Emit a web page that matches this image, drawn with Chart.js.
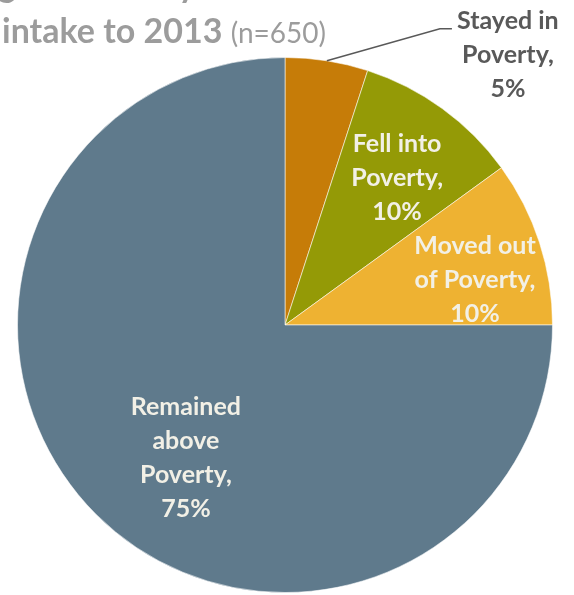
<!DOCTYPE html>
<html><head><meta charset="utf-8">
<script src="https://cdn.jsdelivr.net/npm/chart.js@4"></script>
<style>html,body{margin:0;padding:0;background:#fff;overflow:hidden}canvas{display:block}</style>
</head><body><canvas id="c" width="574" height="595"></canvas>
<script>
const categories = ["Stayed in Poverty", "Fell into Poverty", "Moved out of Poverty", "Remained above Poverty"];
const nameLines = [["Stayed in", "Poverty,"], ["Fell into", "Poverty,"], ["Moved out", "of Poverty,"], ["Remained", "above", "Poverty,"]];
const values = [5, 10, 10, 75];
const colors = ["#C67C08", "#949A06", "#EEB232", "#5F7A8C"];
const titleLine1 = "Change in Poverty from";
const titleLine2 = "intake to 2013";
const titleNote = "(n=650)";

const FONT = "Lato, 'Open Sans', sans-serif";
// label placement styles: radial fraction and angular shift (deg) from slice middle
const labelStyle = [
  {r: 1.31, shift: 30.5, color: '#595959', leader: true},
  {r: 0.69, shift: 1.4, color: '#F2F0E6'},
  {r: 0.73, shift: 4.7, color: '#F2F0E6'},
  {r: 0.62, shift: -8.3, color: '#F2F0E6'}
];

const labelPlugin = {
  id: 'sliceLabels',
  afterDatasetsDraw(chart) {
    const ctx = chart.ctx;
    const meta = chart.getDatasetMeta(0);
    ctx.save();
    ctx.font = "bold 25px " + FONT;
    ctx.textAlign = 'center';
    ctx.textBaseline = 'middle';
    meta.data.forEach((arc, i) => {
      const st = labelStyle[i];
      const mid = (arc.startAngle + arc.endAngle) / 2;
      const a = mid + st.shift * Math.PI / 180;
      const R = arc.outerRadius;
      const cx = arc.x + Math.cos(a) * R * st.r;
      const cy = arc.y + Math.sin(a) * R * st.r;
      const lines = nameLines[i].concat([values[i] + "%"]);
      const lh = 34;
      ctx.fillStyle = st.color;
      lines.forEach((t, k) => {
        ctx.fillText(t, cx, cy - (lines.length - 1) * lh / 2 + k * lh);
      });
      if (st.leader) {
        const sx = arc.x + Math.cos(mid) * R;
        const sy = arc.y + Math.sin(mid) * R;
        const ea = mid + 18.6 * Math.PI / 180;
        const ex = arc.x + Math.cos(ea) * R * 1.25;
        const ey = arc.y + Math.sin(ea) * R * 1.25;
        ctx.strokeStyle = '#595959';
        ctx.lineWidth = 1.5;
        ctx.beginPath();
        ctx.moveTo(sx, sy);
        ctx.lineTo(ex, ey);
        ctx.lineTo(ex + 12, ey);
        ctx.stroke();
      }
    });
    // title
    ctx.textAlign = 'left';
    ctx.textBaseline = 'alphabetic';
    ctx.fillStyle = '#9C9C9C';
    ctx.font = "bold 34px " + FONT;
    ctx.fillText(titleLine1, -80, -3);
    ctx.fillText(titleLine2, 2, 43);
    const w = ctx.measureText(titleLine2 + " ").width;
    ctx.font = "28px " + FONT;
    ctx.fillText(titleNote, 2 + w, 43);
    ctx.restore();
  }
};

new Chart(document.getElementById('c'), {
  type: 'pie',
  data: {
    labels: categories,
    datasets: [{
      data: values,
      backgroundColor: colors,
      borderColor: 'rgba(255,255,255,0.55)',
      borderWidth: 1
    }]
  },
  options: {
    responsive: false,
    animation: false,
    layout: {padding: {top: 57, bottom: 2, left: 17, right: 21}},
    plugins: {legend: {display: false}, tooltip: {enabled: false}, title: {display: false}}
  },
  plugins: [labelPlugin]
});
</script>
</body></html>
